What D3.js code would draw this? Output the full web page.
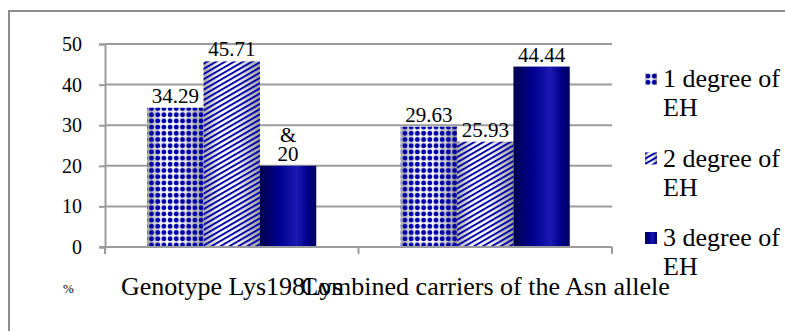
<!DOCTYPE html>
<html>
<head>
<meta charset="utf-8">
<script src="https://cdn.jsdelivr.net/npm/d3@7"></script>
<style>
  body { margin: 0; background: #fff; }
  svg { display: block; }
</style>
</head>
<body>
<div id="chart"></div>
<script>
// data
const categories = ['Genotype Lys198Lys', 'Combined carriers of the Asn allele']
const seriesNames = ['1 degree of EH', '2 degree of EH', '3 degree of EH']
const values = [
    [34.29, 45.71, 20],     // Genotype Lys198Lys
    [29.63, 25.93, 44.44]   // Combined carriers
]
const labelNotes = [['', '', '&'], ['', '', '']]
const yTicks = [0, 10, 20, 30, 40, 50]

const width = 785
const height = 331
const serif = '"Liberation Serif", "Times New Roman", serif'

const svg = d3.select('#chart').append('svg')
    .attr('width', width)
    .attr('height', height)

const defs = svg.append('defs')

// cylinder-ish shading behind the patterned bars
const shade = defs.append('linearGradient').attr('id', 'shade')
shade.selectAll('stop')
    .data([[0, '#a8a8a8'], [0.3, '#ffffff'], [0.6, '#f4f4f4'], [1, '#9c9c9c']])
    .join('stop')
    .attr('offset', d => d[0])
    .attr('stop-color', d => d[1])

const navy = defs.append('linearGradient').attr('id', 'navy')
navy.selectAll('stop')
    .data([[0, '#00004e'], [0.35, '#000090'], [0.65, '#1a1ab4'], [0.85, '#000088'], [1, '#00005e']])
    .join('stop')
    .attr('offset', d => d[0])
    .attr('stop-color', d => d[1])

const dots = defs.append('pattern')
    .attr('id', 'dots')
    .attr('patternUnits', 'userSpaceOnUse')
    .attr('width', 6.2).attr('height', 6.2)
dots.append('circle')
    .attr('cx', 3.1).attr('cy', 3.1).attr('r', 2.4)
    .attr('fill', '#0000a8')

const stripes = defs.append('pattern')
    .attr('id', 'stripes')
    .attr('patternUnits', 'userSpaceOnUse')
    .attr('width', 10).attr('height', 4.5)
    .attr('patternTransform', 'rotate(-30)')
stripes.append('rect')
    .attr('width', 10).attr('height', 1.9)
    .attr('fill', '#0000a8')

const fills = ['url(#dots)', 'url(#stripes)', 'url(#navy)']
const bases = ['url(#shade)', 'url(#shade)', null]

// outer frame, runs off the right and bottom edges
svg.append('rect')
    .attr('x', 9).attr('y', 11)
    .attr('width', 800).attr('height', 340)
    .attr('fill', 'none')
    .attr('stroke', '#8c8c8c')
    .attr('stroke-width', 2)

const x0 = d3.scaleBand().domain(categories).range([105, 612])
const x1 = d3.scaleBand().domain(seriesNames).range([0, x0.bandwidth()]).paddingOuter(0.75)
const y = d3.scaleLinear().domain([0, 50]).range([247, 44])

const gridColor = '#9c9c9c'

// gridlines
svg.append('g')
    .selectAll('line')
    .data(yTicks.filter(t => t > 0))
    .join('line')
    .attr('x1', 105).attr('x2', 612)
    .attr('y1', d => y(d)).attr('y2', d => y(d))
    .attr('stroke', gridColor)
    .attr('stroke-width', 2)

// y axis
const yAxis = svg.append('g')
    .attr('transform', 'translate(105,0)')
    .call(d3.axisLeft(y).tickValues(yTicks).tickSize(6).tickPadding(17))
yAxis.select('.domain').attr('stroke', gridColor).attr('stroke-width', 2)
yAxis.selectAll('.tick line').attr('stroke', gridColor).attr('stroke-width', 2)
yAxis.selectAll('.tick text')
    .attr('font-family', serif)
    .attr('font-size', 20)
    .attr('fill', '#000')

// bars
const groups = svg.append('g')
    .selectAll('g')
    .data(values)
    .join('g')
    .attr('transform', (d, i) => `translate(${x0(categories[i])},0)`)

const bars = groups.selectAll('g')
    .data(d => d.map((v, j) => ({ v, j })))
    .join('g')

bars.filter(d => bases[d.j])
    .append('rect')
    .attr('x', d => x1(seriesNames[d.j]))
    .attr('y', d => y(d.v))
    .attr('width', x1.bandwidth())
    .attr('height', d => y(0) - y(d.v))
    .attr('fill', d => bases[d.j])

bars.append('rect')
    .attr('x', d => x1(seriesNames[d.j]))
    .attr('y', d => y(d.v))
    .attr('width', x1.bandwidth())
    .attr('height', d => y(0) - y(d.v))
    .attr('fill', d => fills[d.j])

// x axis with ticks between groups
svg.append('line')
    .attr('x1', 99).attr('x2', 612)
    .attr('y1', y(0)).attr('y2', y(0))
    .attr('stroke', gridColor).attr('stroke-width', 2)
svg.append('g')
    .selectAll('line')
    .data([105, ...categories.map(c => x0(c) + x0.bandwidth())])
    .join('line')
    .attr('x1', d => d).attr('x2', d => d)
    .attr('y1', y(0)).attr('y2', y(0) + 7)
    .attr('stroke', gridColor).attr('stroke-width', 2)

// data labels
const labels = groups.selectAll('text')
    .data((d, i) => d.map((v, j) => ({ v, j, note: labelNotes[i][j] })))
    .join('text')
    .attr('x', d => x1(seriesNames[d.j]) + x1.bandwidth() / 2)
    .attr('y', d => y(d.v) - 5)
    .attr('text-anchor', 'middle')
    .attr('font-family', serif)
    .attr('font-size', 21)
    .text(d => d.v)
labels.filter(d => d.note)
    .clone()
    .attr('y', d => y(d.v) - 24)
    .text(d => d.note)

// category labels (overlap like the original)
svg.append('g')
    .selectAll('text')
    .data(categories)
    .join('text')
    .attr('x', d => x0(d) + x0.bandwidth() / 2)
    .attr('y', 295)
    .attr('text-anchor', 'middle')
    .attr('font-family', serif)
    .attr('font-size', 26)
    .text(d => d)

svg.append('text')
    .attr('x', 63).attr('y', 293)
    .attr('font-family', serif)
    .attr('font-size', 13)
    .text('%')

// legend
const legend = svg.append('g')
    .selectAll('g')
    .data(seriesNames)
    .join('g')
    .attr('transform', (d, i) => `translate(645,${73 + i * 79.5})`)
legend.filter((d, i) => bases[i])
    .append('rect')
    .attr('width', 12).attr('height', 12)
    .attr('fill', (d, i) => bases[i])
legend.append('rect')
    .attr('width', 12).attr('height', 12)
    .attr('fill', (d, i) => fills[i])
const legendText = legend.append('text')
    .attr('font-family', serif)
    .attr('font-size', 26)
legendText.selectAll('tspan')
    .data(d => [d.replace(/ EH$/, ''), 'EH'])
    .join('tspan')
    .attr('x', 18)
    .attr('y', (d, i) => 14 + i * 29)
    .text(d => d)
</script>
</body>
</html>
